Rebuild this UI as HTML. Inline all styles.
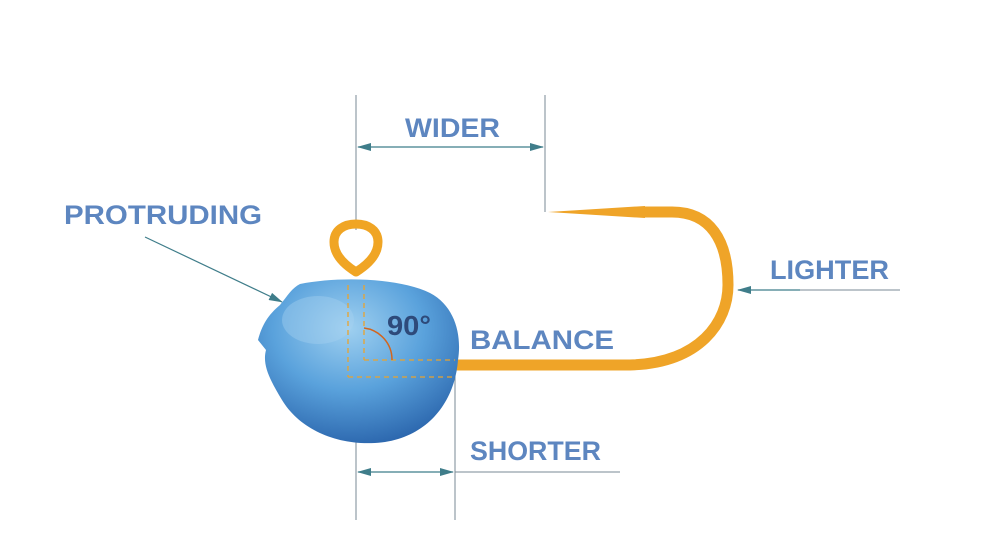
<!DOCTYPE html>
<html><head><style>
html,body{margin:0;padding:0;background:#fff;}
svg{display:block;}
text{font-family:"Liberation Sans",sans-serif;font-weight:bold;}
</style></head><body>
<svg width="997" height="559" viewBox="0 0 997 559" xmlns="http://www.w3.org/2000/svg">
<defs>
<radialGradient id="hg" cx="0.45" cy="0.3" r="0.75">
<stop offset="0" stop-color="#9fd0f0"/>
<stop offset="0.5" stop-color="#5aa2dc"/>
<stop offset="1" stop-color="#2862aa"/>
</radialGradient>
<marker id="ar" markerWidth="14" markerHeight="8" refX="13" refY="4" orient="auto" markerUnits="userSpaceOnUse">
<path d="M0,0 L14,4 L0,8 z" fill="#3f7d8a"/>
</marker>
</defs>
<g stroke="#7a8a94" stroke-width="1" fill="none">
<line x1="356" y1="95" x2="356" y2="230"/>
<line x1="356" y1="440" x2="356" y2="520"/>
<line x1="545" y1="95" x2="545" y2="212"/>
<line x1="455" y1="370" x2="455" y2="520"/>
<line x1="455" y1="472" x2="620" y2="472"/>
<line x1="740" y1="290" x2="900" y2="290"/>
</g>
<g stroke="#3f7d8a" stroke-width="1.2" fill="none">
<line x1="450" y1="147" x2="358" y2="147" marker-end="url(#ar)"/>
<line x1="450" y1="147" x2="543" y2="147" marker-end="url(#ar)"/>
<line x1="405" y1="472" x2="358" y2="472" marker-end="url(#ar)"/>
<line x1="405" y1="472" x2="453" y2="472" marker-end="url(#ar)"/>
<line x1="800" y1="290" x2="738" y2="290" marker-end="url(#ar)"/>
<line x1="145" y1="237" x2="282" y2="302" marker-end="url(#ar)"/>
</g>
<path d="M450,365 L630,365 C700,363 728,322 728,285 C728,240 710,212 672,212 L640,212" stroke="#efa428" stroke-width="11" fill="none" stroke-linecap="round"/>
<polygon points="548,212 645,206 645,218" fill="#efa428"/>
<path d="M356,272 C340,262 334,252 334,242 C334,230 344,224 356,224 C368,224 378,230 378,242 C378,252 372,262 356,272 Z" fill="none" stroke="#f0a524" stroke-width="9" stroke-linejoin="round"/>
<path d="M300,284 C340,276 400,278 430,293 C455,306 462,335 458,360 C455,400 430,435 385,442 C340,448 300,430 282,400 C270,380 262,365 266,350 L258,340 C262,325 268,315 280,305 C288,295 292,288 300,284 Z" fill="url(#hg)"/>
<ellipse cx="318" cy="320" rx="36" ry="24" fill="#a8d3f0" opacity="0.4"/>
<g stroke="#e9a32e" stroke-width="1.3" fill="none" stroke-dasharray="5,4">
<line x1="348" y1="285" x2="348" y2="377"/>
<line x1="348" y1="377" x2="455" y2="377"/>
<line x1="364" y1="285" x2="364" y2="360"/>
<line x1="364" y1="360" x2="455" y2="360"/>
</g>
<path d="M364,328 A32,32 0 0 1 392,360" stroke="#d2651e" stroke-width="1.5" fill="none"/>
<text x="387" y="335" font-size="28" fill="#2e4a7a" textLength="44" lengthAdjust="spacingAndGlyphs">90°</text>
<g fill="#5d86c0" font-size="27">
<text x="405" y="137" textLength="95" lengthAdjust="spacingAndGlyphs">WIDER</text>
<text x="64" y="224" textLength="198" lengthAdjust="spacingAndGlyphs">PROTRUDING</text>
<text x="770" y="279" textLength="119" lengthAdjust="spacingAndGlyphs">LIGHTER</text>
<text x="470" y="349" textLength="144" lengthAdjust="spacingAndGlyphs">BALANCE</text>
<text x="470" y="460" textLength="131" lengthAdjust="spacingAndGlyphs">SHORTER</text>
</g>
</svg>
</body></html>
